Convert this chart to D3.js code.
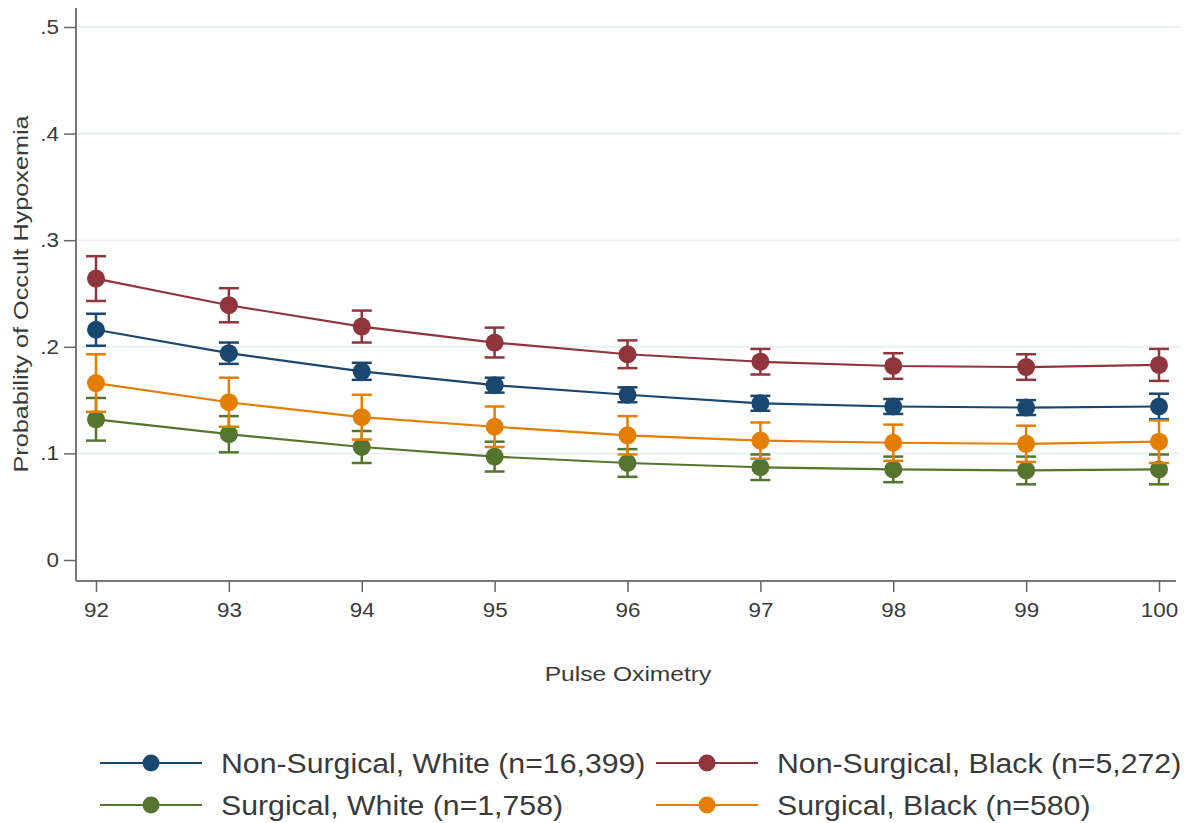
<!DOCTYPE html>
<html>
<head>
<meta charset="utf-8">
<script src="https://cdn.jsdelivr.net/npm/d3@7"></script>
<style>
  body { margin: 0; background: #fff; }
  svg { display: block; }
  text { font-family: "Liberation Sans", Arial, sans-serif; fill: #3a3a3a; }
</style>
</head>
<body>
<svg id="chart" width="1191" height="823"></svg>
<script>
// pulse oximetry readings
const oximetry = [92, 93, 94, 95, 96, 97, 98, 99, 100];
const yTicks = [0, 0.1, 0.2, 0.3, 0.4, 0.5];

// predicted probability and CI half width for each group
const nonSurgWhite = [0.216, 0.194, 0.177, 0.164, 0.155, 0.147, 0.144, 0.143, 0.144];
const nonSurgWhiteErr = [0.015, 0.010, 0.008, 0.007, 0.007, 0.007, 0.007, 0.007, 0.012];
const nonSurgBlack = [0.264, 0.239, 0.219, 0.204, 0.193, 0.186, 0.182, 0.181, 0.183];
const nonSurgBlackErr = [0.021, 0.016, 0.015, 0.014, 0.013, 0.012, 0.012, 0.012, 0.015];
const surgWhite = [0.132, 0.118, 0.106, 0.097, 0.091, 0.087, 0.085, 0.084, 0.085];
const surgWhiteErr = [0.020, 0.017, 0.015, 0.014, 0.013, 0.012, 0.012, 0.013, 0.014];
const surgBlack = [0.166, 0.148, 0.134, 0.125, 0.117, 0.112, 0.110, 0.109, 0.111];
const surgBlackErr = [0.027, 0.023, 0.021, 0.019, 0.018, 0.017, 0.017, 0.017, 0.020];

const groups = [
  { name: "Non-Surgical, White (n=16,399)", values: nonSurgWhite, err: nonSurgWhiteErr, color: "#1a476f" },
  { name: "Non-Surgical, Black (n=5,272)", values: nonSurgBlack, err: nonSurgBlackErr, color: "#90353b" },
  { name: "Surgical, White (n=1,758)", values: surgWhite, err: surgWhiteErr, color: "#55752f" },
  { name: "Surgical, Black (n=580)", values: surgBlack, err: surgBlackErr, color: "#e37e00" },
];

const svg = d3.select("#chart");
const x = d3.scaleLinear().domain([92, 100]).range([96, 1159]);
const y = d3.scaleLinear().domain([0, 0.5]).range([560, 27]);

// the original picture has slightly widened lettering
function stretch(sel, k) {
  sel.each(function () {
    const w = this.getComputedTextLength();
    d3.select(this).attr("textLength", w * k).attr("lengthAdjust", "spacingAndGlyphs");
  });
}

// gridlines
svg.append("g")
  .selectAll("line")
  .data(yTicks.filter((d) => d > 0))
  .join("line")
  .attr("x1", 78).attr("x2", 1180)
  .attr("y1", (d) => y(d)).attr("y2", (d) => y(d))
  .attr("stroke", "#ebf2f4").attr("stroke-width", 2);

// y axis
const yAxis = svg.append("g")
  .attr("transform", "translate(76,0)")
  .call(d3.axisLeft(y).tickValues(yTicks).tickSize(12).tickPadding(5)
    .tickFormat((d) => d === 0 ? "0" : d3.format(".1f")(d).replace(/^0/, "")));
yAxis.select(".domain").attr("d", "M0,8V581");

// x axis
const xAxis = svg.append("g")
  .attr("transform", "translate(0,581)")
  .call(d3.axisBottom(x).tickValues(oximetry).tickSize(11).tickPadding(11).tickFormat(d3.format("d")));
xAxis.select(".domain").attr("d", "M76,0H1176");

svg.selectAll(".domain").attr("stroke", "#777").attr("stroke-width", 2);
svg.selectAll(".tick line").attr("stroke", "#666").attr("stroke-width", 1.5);
svg.selectAll(".tick text")
  .style("font-size", "20px").style("fill", "#3a3a3a")
  .style("font-family", "'Liberation Sans', Arial, sans-serif");
stretch(svg.selectAll(".tick text"), 1.12);

// axis titles
svg.append("text")
  .attr("x", 628).attr("y", 681)
  .attr("text-anchor", "middle")
  .style("font-size", "21px")
  .text("Pulse Oximetry")
  .call(stretch, 1.17);

svg.append("text")
  .attr("transform", "translate(28,294) rotate(-90)")
  .attr("text-anchor", "middle")
  .style("font-size", "21px")
  .text("Probability of Occult Hypoxemia")
  .call(stretch, 1.2);

// series
const line = d3.line().x((d, i) => x(oximetry[i])).y((d) => y(d));
const plot = svg.append("g");

groups.forEach((g) => {
  const s = plot.append("g");
  s.append("path")
    .attr("d", line(g.values))
    .attr("fill", "none")
    .attr("stroke", g.color)
    .attr("stroke-width", 2.2);

  const bars = s.selectAll(".err")
    .data(g.values.map((v, i) => ({ x: oximetry[i], v, e: g.err[i] })))
    .join("g");
  bars.append("line")
    .attr("x1", (d) => x(d.x)).attr("x2", (d) => x(d.x))
    .attr("y1", (d) => y(d.v + d.e)).attr("y2", (d) => y(d.v - d.e))
    .attr("stroke", g.color).attr("stroke-width", 2.5);
  [1, -1].forEach((sign) => {
    bars.append("line")
      .attr("x1", (d) => x(d.x) - 10).attr("x2", (d) => x(d.x) + 10)
      .attr("y1", (d) => y(d.v + sign * d.e)).attr("y2", (d) => y(d.v + sign * d.e))
      .attr("stroke", g.color).attr("stroke-width", 2.5);
  });
  bars.append("circle")
    .attr("cx", (d) => x(d.x)).attr("cy", (d) => y(d.v))
    .attr("r", 9)
    .attr("fill", g.color);
});

// legend
const legendPos = [
  { lx: 100, ty: 763 },
  { lx: 656, ty: 763 },
  { lx: 100, ty: 805 },
  { lx: 656, ty: 805 },
];
groups.forEach((g, i) => {
  const p = legendPos[i];
  const lg = svg.append("g").attr("transform", `translate(${p.lx},${p.ty})`);
  lg.append("line").attr("x1", 0).attr("x2", 102).attr("y1", 0).attr("y2", 0)
    .attr("stroke", g.color).attr("stroke-width", 2.2);
  lg.append("circle").attr("cx", 51).attr("cy", 0).attr("r", 8.5).attr("fill", g.color);
  lg.append("text").attr("x", 121).attr("y", 0).attr("dy", "0.36em")
    .style("font-size", "27px")
    .text(g.name)
    .call(stretch, 1.12);
});
</script>
</body>
</html>
